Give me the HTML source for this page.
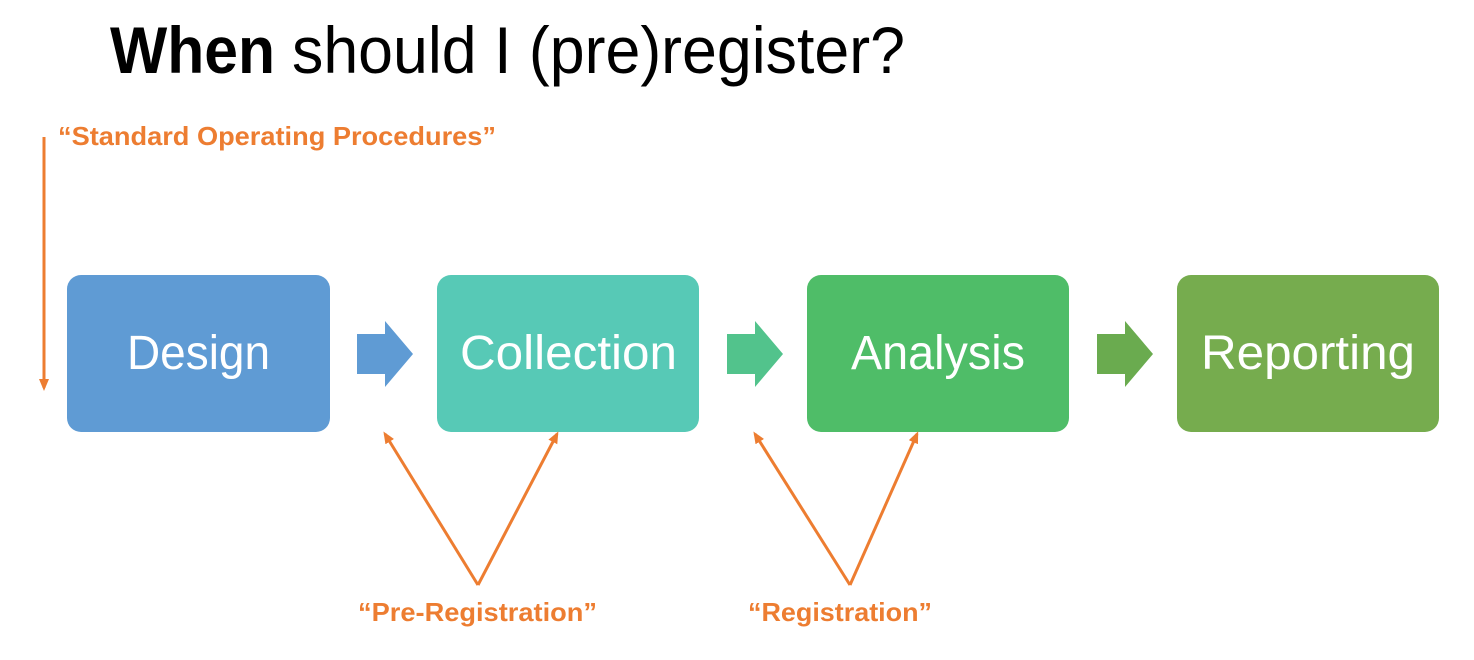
<!DOCTYPE html>
<html><head><meta charset="utf-8"><style>
html,body{margin:0;padding:0;background:#fff;}
svg{display:block;}
</style></head><body>
<svg width="1474" height="660" viewBox="0 0 1474 660" xmlns="http://www.w3.org/2000/svg">
<defs>
<marker id="ah" markerWidth="12" markerHeight="10" refX="9" refY="5" orient="auto" markerUnits="userSpaceOnUse" viewBox="0 0 12 10">
<path d="M0,0 L12,5 L0,10 z" fill="#ed7d31"/>
</marker>
</defs>
<g font-family="Liberation Sans, sans-serif">
<text x="110" y="73" font-size="66" fill="#000" textLength="165" lengthAdjust="spacingAndGlyphs" font-weight="bold">When</text>
<text x="292" y="73" font-size="66" fill="#000" textLength="613" lengthAdjust="spacingAndGlyphs">should I (pre)register?</text>

<text x="58" y="145" font-size="26" font-weight="bold" fill="#ed7d31" textLength="438" lengthAdjust="spacingAndGlyphs">“Standard Operating Procedures”</text>
<text x="358" y="621" font-size="26" font-weight="bold" fill="#ed7d31" textLength="239" lengthAdjust="spacingAndGlyphs">“Pre-Registration”</text>
<text x="748" y="621" font-size="26" font-weight="bold" fill="#ed7d31" textLength="184" lengthAdjust="spacingAndGlyphs">“Registration”</text>

<rect x="67" y="275" width="263" height="157" rx="14" fill="#5f9bd4"/>
<rect x="437" y="275" width="262" height="157" rx="14" fill="#57c9b6"/>
<rect x="807" y="275" width="262" height="157" rx="14" fill="#4fbd68"/>
<rect x="1177" y="275" width="262" height="157" rx="14" fill="#76ac4e"/>

<text x="127" y="369" font-size="48" fill="#fff" textLength="143" lengthAdjust="spacingAndGlyphs">Design</text>
<text x="460" y="369" font-size="48" fill="#fff" textLength="217" lengthAdjust="spacingAndGlyphs">Collection</text>
<text x="851" y="369" font-size="48" fill="#fff" textLength="174" lengthAdjust="spacingAndGlyphs">Analysis</text>
<text x="1201" y="369" font-size="48" fill="#fff" textLength="214" lengthAdjust="spacingAndGlyphs">Reporting</text>
</g>

<path d="M357,334 H385 V321 L413,354 L385,387 V374 H357 z" fill="#5f9bd4"/>
<path d="M727,334 H755 V321 L783,354 L755,387 V374 H727 z" fill="#52c38c"/>
<path d="M1097,334 H1125 V321 L1153,354 L1125,387 V374 H1097 z" fill="#6aab4f"/>

<g stroke="#ed7d31" stroke-width="3" fill="none">
<line x1="44" y1="137" x2="44" y2="388" marker-end="url(#ah)"/>
<line x1="478" y1="585" x2="385" y2="434" marker-end="url(#ah)"/>
<line x1="478" y1="585" x2="557" y2="434" marker-end="url(#ah)"/>
<line x1="850" y1="585" x2="755" y2="434" marker-end="url(#ah)"/>
<line x1="850" y1="585" x2="917" y2="434" marker-end="url(#ah)"/>
</g>
</svg>
</body></html>
